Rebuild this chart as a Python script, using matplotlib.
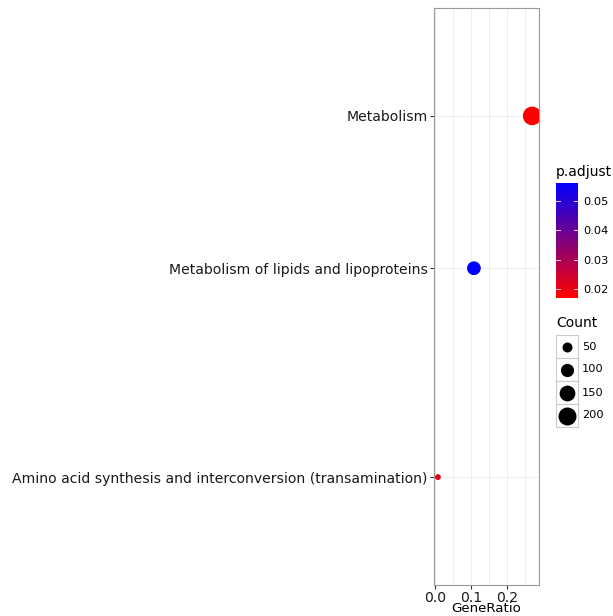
import matplotlib
matplotlib.use("Agg")
import matplotlib.pyplot as plt
import numpy as np
from matplotlib.colors import LinearSegmentedColormap, Normalize

terms = ["Amino acid synthesis and interconversion (transamination)",
         "Metabolism of lipids and lipoproteins", "Metabolism"]
gene_ratio = [0.008, 0.108, 0.270]
counts = [6, 110, 215]
padj = [0.021, 0.056, 0.017]
ypos = [0.187, 0.549, 0.813]
size_breaks = [50, 100, 150, 200]
cbar_ticks = [0.02, 0.03, 0.04, 0.05]

W, H = 613, 616
fig = plt.figure(figsize=(W/100, H/100), dpi=100)
def ax_px(x0, y0, x1, y1):
    return fig.add_axes([x0/W, 1-y1/H, (x1-x0)/W, (y1-y0)/H])

def diam(c):
    return np.sqrt(1.49*np.asarray(c, float)+25)  # px

cmap = LinearSegmentedColormap.from_list("rb", ["#FF0000", "#0000FF"])
norm = Normalize(0.017, 0.056)

ax = ax_px(434, 8, 539, 585)
ax.set_xlim(-0.003, 0.289)
ax.set_ylim(0.0, 1.0)
ax.scatter(gene_ratio, ypos, s=(diam(counts)*0.72)**2, c=padj, cmap=cmap, norm=norm, zorder=3, linewidths=0)
ax.set_yticks(ypos)
ax.set_yticklabels(terms, fontsize=10.1, color="#1a1a1a")
ax.set_xticks([0.0, 0.1, 0.2])
ax.set_xticklabels(["0.0", "0.1", "0.2"], fontsize=10.1, color="#1a1a1a")
ax.set_xticks([0.05, 0.15, 0.25], minor=True)
ax.grid(True, which="both", color="#EBEBEB", lw=0.6)
ax.set_axisbelow(True)
for s in ax.spines.values():
    s.set_color("#999999"); s.set_linewidth(0.8)
ax.tick_params(axis="both", which="major", length=3, color="#333333", pad=1.5)
ax.tick_params(axis="x", which="minor", length=0)
ax.set_xlabel("GeneRatio", fontsize=9.6, labelpad=-2)

# colorbar
cax = ax_px(556, 183, 578, 298)
grad = np.linspace(0.017, 0.056, 200).reshape(-1, 1)
cax.imshow(grad, aspect="auto", cmap=cmap, norm=norm, origin="lower",
           extent=[0, 1, 0.017, 0.056])
cax.set_xticks([])
cax.yaxis.tick_right()
cax.set_yticks(cbar_ticks)
cax.set_yticklabels(["%.2f" % t for t in cbar_ticks], fontsize=8.2)
cax.tick_params(axis="y", length=0, pad=4)
for t in cbar_ticks:
    cax.plot([0, 0.2], [t, t], color="white", lw=0.6)
    cax.plot([0.8, 1], [t, t], color="white", lw=0.6)
for s in cax.spines.values():
    s.set_visible(False)
fig.text(556/W, 1-179/H, "p.adjust", fontsize=10, va="bottom")

# size legend
fig.text(556/W, 1-330/H, "Count", fontsize=10, va="bottom")
for i, b in enumerate(size_breaks):
    y0 = 335 + i*23
    kax = ax_px(556, y0, 578, y0+23)
    kax.set_xlim(0, 1); kax.set_ylim(0, 1)
    kax.set_xticks([]); kax.set_yticks([])
    for s in kax.spines.values():
        s.set_color("#CCCCCC"); s.set_linewidth(0.8)
    kax.scatter([0.5], [0.5], s=(diam(b)*0.72)**2, color="black", linewidths=0)
    fig.text(582/W, 1-(y0+11.5)/H, str(b), fontsize=8.2, va="center")

fig.savefig("out.png", dpi=100)
